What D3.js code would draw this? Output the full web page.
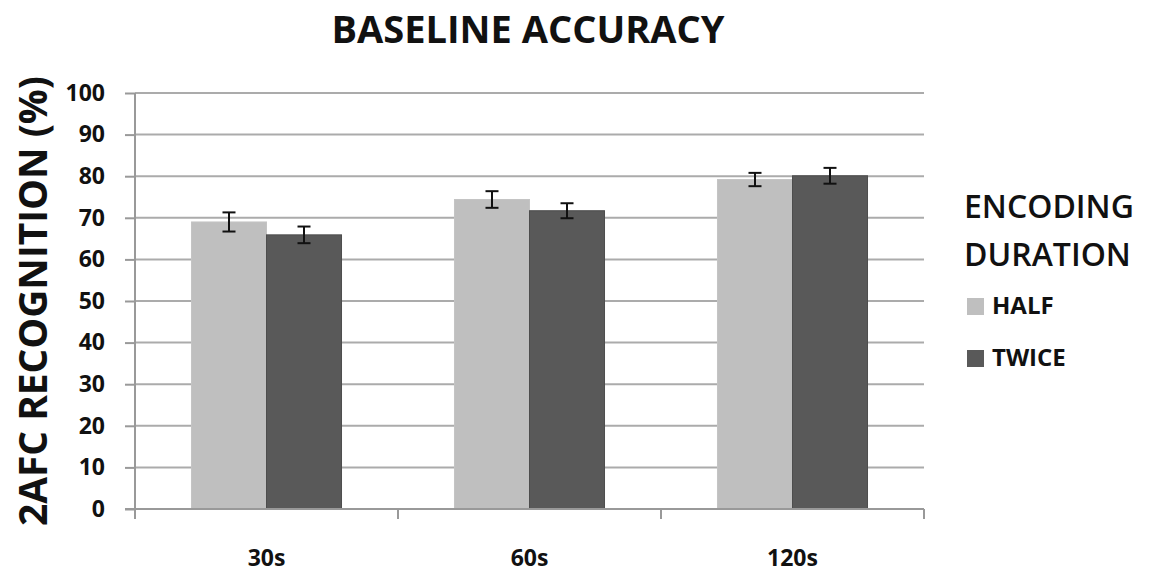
<!DOCTYPE html>
<html>
<head>
<meta charset="utf-8">
<script src="https://cdn.jsdelivr.net/npm/d3@7"></script>
<style>
  html, body { margin: 0; padding: 0; background: #fff; }
  svg { display: block; font-family: "Open Sans", sans-serif; }
</style>
</head>
<body>
<svg id="chart" width="1154" height="579"></svg>
<script>
const categories = ["30s", "60s", "120s"];
const seriesNames = ["HALF", "TWICE"];
const halfValues = [69.0, 74.4, 79.2];
const twiceValues = [65.9, 71.7, 80.1];
const halfErrors = [2.3, 2.0, 1.6];
const twiceErrors = [2.0, 1.8, 1.9];
const yTicks = [0, 10, 20, 30, 40, 50, 60, 70, 80, 90, 100];
const titleText = "BASELINE ACCURACY";
const yTitleText = "2AFC RECOGNITION (%)";
const legendTitle = ["ENCODING", "DURATION"];

const colors = { HALF: "#bfbfbf", TWICE: "#595959" };
const seriesData = {
  HALF: { values: halfValues, errors: halfErrors },
  TWICE: { values: twiceValues, errors: twiceErrors }
};

const svg = d3.select("#chart");
const plotLeft = 135, plotRight = 924, plotTop = 93, plotBottom = 509;

const x = d3.scaleBand().domain(categories).range([plotLeft, plotRight]).padding(0);
const xSub = d3.scaleBand().domain(seriesNames).range([0, x.bandwidth()])
  .paddingInner(0).paddingOuter(0.753);
const y = d3.scaleLinear().domain([0, 100]).range([plotBottom, plotTop]);

// gridlines
svg.append("g").selectAll("line").data(yTicks.filter(d => d > 0)).join("line")
  .attr("x1", plotLeft).attr("x2", plotRight)
  .attr("y1", d => y(d)).attr("y2", d => y(d))
  .attr("stroke", "#ababab").attr("stroke-width", 2);

// bars
const groups = svg.append("g").selectAll("g").data(categories).join("g")
  .attr("transform", d => `translate(${x(d)},0)`);
seriesNames.forEach(s => {
  groups.append("rect")
    .attr("x", xSub(s))
    .attr("width", xSub.bandwidth())
    .attr("y", (d, i) => y(seriesData[s].values[i]))
    .attr("height", (d, i) => y(0) - y(seriesData[s].values[i]))
    .attr("fill", colors[s])
    .attr("stroke", s === "TWICE" ? "#4d4d4d" : "#c4c4c4").attr("stroke-width", 1);
});

// error bars
seriesNames.forEach(s => {
  groups.each(function(d, i) {
    const g = d3.select(this);
    const cx = xSub(s) + xSub.bandwidth() / 2;
    const v = seriesData[s].values[i], e = seriesData[s].errors[i];
    const eg = g.append("g").attr("stroke", "#111").attr("stroke-width", 2);
    eg.append("line").attr("x1", cx).attr("x2", cx).attr("y1", y(v + e)).attr("y2", y(v - e));
    eg.append("line").attr("x1", cx - 6.5).attr("x2", cx + 6.5).attr("y1", y(v + e)).attr("y2", y(v + e));
    eg.append("line").attr("x1", cx - 6.5).attr("x2", cx + 6.5).attr("y1", y(v - e)).attr("y2", y(v - e));
  });
});

// y axis
const yAxis = d3.axisLeft(y).tickValues(yTicks).tickSize(10).tickPadding(20);
const gy = svg.append("g").attr("transform", `translate(${plotLeft},0)`).call(yAxis);
gy.select(".domain").attr("stroke", "#999").attr("stroke-width", 2)
  .attr("d", `M0,${plotTop}V${plotBottom + 8}`);
gy.selectAll(".tick line").attr("stroke", "#999").attr("stroke-width", 2);
gy.selectAll(".tick text").attr("font-family", "Open Sans").attr("font-weight", "bold")
  .attr("font-size", 23).attr("fill", "#111");

// x axis
const boundaries = categories.map(c => x(c)).concat([plotRight]);
const gx = svg.append("g");
gx.append("line").attr("x1", plotLeft - 10).attr("x2", plotRight).attr("y1", plotBottom).attr("y2", plotBottom)
  .attr("stroke", "#999").attr("stroke-width", 2);
gx.selectAll("line.tk").data(boundaries).join("line").attr("class", "tk")
  .attr("x1", d => d).attr("x2", d => d).attr("y1", plotBottom).attr("y2", plotBottom + 10)
  .attr("stroke", "#999").attr("stroke-width", 2);
gx.selectAll("text").data(categories).join("text")
  .attr("x", d => x(d) + x.bandwidth() / 2).attr("y", 566)
  .attr("text-anchor", "middle").attr("font-weight", "bold").attr("font-size", 23)
  .attr("fill", "#111").text(d => d);

// title
svg.append("text").attr("x", 528).attr("y", 43).attr("text-anchor", "middle")
  .attr("font-weight", "bold").attr("font-size", 38).attr("fill", "#111")
  .attr("textLength", 393).attr("lengthAdjust", "spacingAndGlyphs").text(titleText);

// y title
svg.append("text").attr("transform", `translate(47,${(plotTop + plotBottom) / 2}) rotate(-90)`)
  .attr("text-anchor", "middle").attr("font-weight", "bold").attr("font-size", 39)
  .attr("fill", "#111").attr("textLength", 450).attr("lengthAdjust", "spacingAndGlyphs")
  .text(yTitleText);

// legend
svg.selectAll("text.lt").data(legendTitle).join("text").attr("class", "lt")
  .attr("x", 964).attr("y", (d, i) => 218 + i * 48)
  .attr("font-size", 32).attr("font-weight", 600).attr("fill", "#111").text(d => d);
const lg = svg.append("g").selectAll("g").data(seriesNames).join("g")
  .attr("transform", (d, i) => `translate(967,${298 + i * 52})`);
lg.append("rect").attr("width", 17).attr("height", 17).attr("fill", d => colors[d]);
lg.append("text").attr("x", 25).attr("y", 16).attr("font-weight", "bold")
  .attr("font-size", 24).attr("fill", "#111").text(d => d);
</script>
</body>
</html>
